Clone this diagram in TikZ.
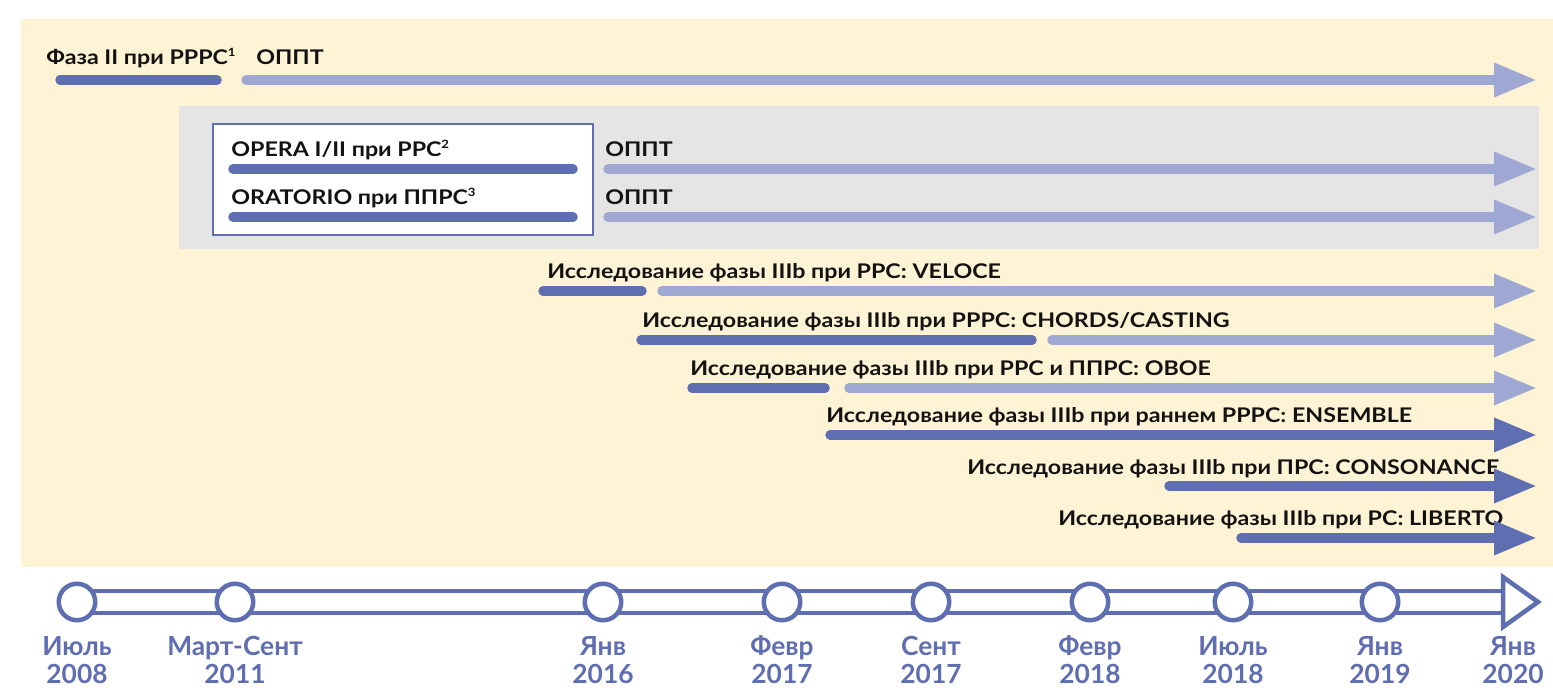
\documentclass[tikz,border=0pt]{standalone}
\usepackage{fontspec}
\setmainfont{Lato}
\newfontfamily\widelato{Lato}[FakeStretch=1.15]
\usetikzlibrary{arrows.meta}

\definecolor{barblue}{HTML}{5F6DB1}
\definecolor{barlight}{HTML}{9EA8D3}
\definecolor{bgyellow}{HTML}{FFF3D5}
\definecolor{bggray}{HTML}{E5E5E5}

\newcommand{\fnmark}[1]{\raisebox{0.42em}{\fontsize{6.5}{7}\selectfont #1}}

\tikzset{
	lbl/.style={anchor=base west, inner sep=0pt, font=\widelato\bfseries\fontsize{11.5}{13}\selectfont, text=black!93},
	darkseg/.style={draw=barblue, line width=0.19cm, line cap=round},
	lightarr/.style={draw=barlight, line width=0.19cm, line cap=round, -{Triangle[length=0.86cm,width=0.64cm]}},
	darkarr/.style={draw=barblue, line width=0.19cm, line cap=round, -{Triangle[length=0.86cm,width=0.64cm]}},
	datedot/.style={circle, draw=barblue, fill=white, line width=0.09cm, minimum size=0.73cm, inner sep=0pt},
	datelbl/.style={anchor=base, inner sep=0pt, text=barblue, font=\bfseries\fontsize{15}{18}\selectfont}
}

\begin{document}
\begin{tikzpicture}[x=0.02cm,y=-0.02cm]
	\useasboundingbox (0,0) rectangle (1553,688);

	% Backgrounds
	\fill[bgyellow] (21,19) rectangle (1553,567);
	\fill[bggray] (179,106) rectangle (1539,249);
	\draw[barblue, line width=0.6pt, fill=white] (213,124) rectangle (593,235);

	% Phase II
	\node[lbl] (ph2) at (46,65) {Фаза II при РРРС\fnmark{1}};
	\node[lbl] (ph2o) at (256,65) {ОППТ};
	\coordinate (ph2a) at (60,80);
	\coordinate (ph2b) at (217,80);
	\coordinate (ph2c) at (246,80);
	\coordinate (ph2d) at (1537,80);
	\draw[darkseg] (ph2a) -- (ph2b);
	\draw[lightarr] (ph2c) -- (ph2d);

	% OPERA
	\node[lbl] (opera) at (231,157) {OPERA I/II при РРС\fnmark{2}};
	\node[lbl] (operao) at (605,157) {ОППТ};
	\coordinate (operaa) at (233,169);
	\coordinate (operab) at (573,169);
	\coordinate (operac) at (608,169);
	\coordinate (operad) at (1537,169);
	\draw[darkseg] (operaa) -- (operab);
	\draw[lightarr] (operac) -- (operad);

	% ORATORIO
	\node[lbl] (orat) at (231,205) {ORATORIO при ППРС\fnmark{3}};
	\node[lbl] (orato) at (605,205) {ОППТ};
	\coordinate (orata) at (233,217);
	\coordinate (oratb) at (573,217);
	\coordinate (oratc) at (608,217);
	\coordinate (oratd) at (1537,217);
	\draw[darkseg] (orata) -- (oratb);
	\draw[lightarr] (oratc) -- (oratd);

	% VELOCE
	\node[lbl] (veloce) at (547,279) {Исследование фазы IIIb при РРС: VELOCE};
	\coordinate (velocea) at (543,291);
	\coordinate (veloceb) at (642,291);
	\coordinate (velocec) at (662,291);
	\coordinate (veloced) at (1537,291);
	\draw[darkseg] (velocea) -- (veloceb);
	\draw[lightarr] (velocec) -- (veloced);

	% CHORDS/CASTING
	\node[lbl] (chords) at (642,328) {Исследование фазы IIIb при РРРС: CHORDS/CASTING};
	\coordinate (chordsa) at (641,340);
	\coordinate (chordsb) at (1032,340);
	\coordinate (chordsc) at (1052,340);
	\coordinate (chordsd) at (1537,340);
	\draw[darkseg] (chordsa) -- (chordsb);
	\draw[lightarr] (chordsc) -- (chordsd);

	% OBOE
	\node[lbl] (oboe) at (690,376) {Исследование фазы IIIb при РРС и ППРС: OBOE};
	\coordinate (oboea) at (692,388);
	\coordinate (oboeb) at (825,388);
	\coordinate (oboec) at (849,388);
	\coordinate (oboed) at (1537,388);
	\draw[darkseg] (oboea) -- (oboeb);
	\draw[lightarr] (oboec) -- (oboed);

	% ENSEMBLE
	\node[lbl] (ensem) at (826,423) {Исследование фазы IIIb при раннем РРРС: ENSEMBLE};
	\coordinate (ensema) at (830,435);
	\coordinate (ensemd) at (1537,435);
	\draw[darkarr] (ensema) -- (ensemd);

	% CONSONANCE
	\node[lbl] (conson) at (967,475) {Исследование фазы IIIb при ПРС: CONSONANCE};
	\coordinate (consona) at (1169,486);
	\coordinate (consond) at (1537,486);
	\draw[darkarr] (consona) -- (consond);

	% LIBERTO
	\node[lbl] (libert) at (1058,526) {Исследование фазы IIIb при РС: LIBERTO};
	\coordinate (liberta) at (1241,538);
	\coordinate (libertd) at (1537,538);
	\draw[darkarr] (liberta) -- (libertd);

	% The time line
	\coordinate (tend) at (1503,602);
	\coordinate (ttip) at (1538,602);
	\node[inner sep=0pt] (t0) at (77,602) {};
	\draw[barblue, line width=0.09cm, double=white, double distance=0.35cm] (t0.center) -- (tend);
	\draw[barblue, line width=0.09cm, line join=miter, fill=white] (tend) -- (1503,577) -- (ttip) -- (1503,627) -- cycle;
	\foreach \x/\m/\y [count=\i] in {77/Июль/2008, 235/Март-Сент/2011, 603/Янв/2016, 782/Февр/2017,
		931/Сент/2017, 1090/Февр/2018, 1233/Июль/2018, 1380/Янв/2019}
	{
		\node[datedot] (d\i) at (\x,602) {};
		\node[datelbl] (m\i) at (\x,656) {\m};
		\node[datelbl] (y\i) at (\x,684) {\y};
	}
	\node[datelbl] (m9) at (1513,656) {Янв};
	\node[datelbl] (y9) at (1513,684) {2020};
\end{tikzpicture}
\end{document}
